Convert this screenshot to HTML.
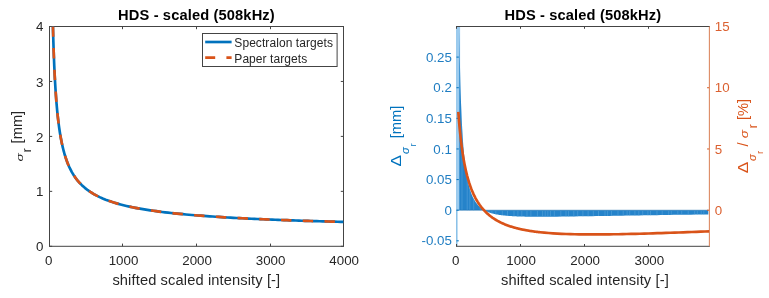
<!DOCTYPE html>
<html><head><meta charset="utf-8"><title>HDS - scaled (508kHz)</title>
<style>
html,body{margin:0;padding:0;background:#fff;}
svg{display:block;font-family:"Liberation Sans", Arial, Helvetica, sans-serif;}
</style></head>
<body>
<svg width="769" height="298" viewBox="0 0 769 298">
<rect width="769" height="298" fill="#fff"/>
<clipPath id="c1"><rect x="49.5" y="26.5" width="294.0" height="219.8"/></clipPath>
<clipPath id="c2"><rect x="456" y="26.5" width="253.39999999999998" height="219.8"/></clipPath>
<path d="M49.50 246.3v-2.7M49.50 26.5v2.7M49.5 246.30h2.7M343.5 246.30h-2.7M122.50 246.3v-2.7M122.50 26.5v2.7M49.5 191.35h2.7M343.5 191.35h-2.7M196.50 246.3v-2.7M196.50 26.5v2.7M49.5 136.40h2.7M343.5 136.40h-2.7M270.50 246.3v-2.7M270.50 26.5v2.7M49.5 81.45h2.7M343.5 81.45h-2.7M343.50 246.3v-2.7M343.50 26.5v2.7M49.5 26.50h2.7M343.5 26.50h-2.7" stroke="#444" stroke-width="1" fill="none"/>
<g fill="none" stroke-width="1">
<path d="M49.0 26.5H344.0M49.0 246.3H344.0" stroke="#444"/>
<path d="M49.5 26.5V246.3" stroke="#444" stroke-width="1.0"/>
<path d="M343.5 26.5V246.3" stroke="#444" stroke-width="1.0"/>
</g>
<g clip-path="url(#c1)" fill="none" stroke-width="2.67" stroke-linejoin="round">
<polyline points="52.80,21.01 53.10,32.42 53.39,42.39 53.68,51.20 53.98,59.04 54.27,66.08 54.56,72.44 54.86,78.22 55.15,83.50 55.44,88.35 55.74,92.81 56.03,96.95 56.32,100.79 56.62,104.36 56.91,107.70 57.20,110.83 57.50,113.77 57.79,116.54 58.08,119.15 58.38,121.61 58.67,123.95 58.96,126.16 59.25,128.27 59.55,130.27 59.84,132.18 60.13,134.00 60.43,135.74 60.72,137.41 61.01,139.00 61.31,140.53 61.60,142.00 61.89,143.41 62.19,144.77 62.48,146.08 62.77,147.33 63.07,148.55 63.36,149.72 63.65,150.85 63.95,151.94 64.24,153.00 64.53,154.02 64.83,155.01 65.12,155.97 65.41,156.90 65.71,157.80 66.00,158.68 66.29,159.53 66.59,160.35 66.88,161.16 67.17,161.94 67.46,162.70 67.76,163.44 68.05,164.16 68.34,164.86 68.64,165.54 68.93,166.21 69.22,166.86 69.52,167.49 69.81,168.11 70.10,168.72 70.40,169.31 70.69,169.89 70.98,170.45 71.28,171.00 71.57,171.54 71.86,172.07 72.16,172.59 72.45,173.10 72.74,173.59 73.04,174.08 73.33,174.55 73.62,175.02 73.92,175.47 74.21,175.92 74.50,176.36 74.80,176.79 75.09,177.21 75.38,177.63 75.67,178.03 75.97,178.43 76.26,178.83 76.55,179.21 76.85,179.59 77.14,179.96 77.43,180.33 77.73,180.68 78.02,181.04 78.31,181.38 78.61,181.72 78.90,182.06 81.87,185.17 84.85,187.85 87.82,190.18 90.79,192.23 93.77,194.05 96.74,195.67 99.71,197.14 102.68,198.47 105.66,199.68 108.63,200.80 111.60,201.82 114.58,202.76 117.55,203.64 120.52,204.46 123.50,205.22 126.47,205.93 129.44,206.60 132.41,207.23 135.39,207.82 138.36,208.38 141.33,208.91 144.31,209.41 147.28,209.89 150.25,210.34 153.23,210.77 156.20,211.18 159.17,211.58 162.14,211.95 165.12,212.31 168.09,212.66 171.06,212.99 174.04,213.31 177.01,213.61 179.98,213.91 182.96,214.19 185.93,214.46 188.90,214.73 191.88,214.98 194.85,215.23 197.82,215.47 200.79,215.70 203.77,215.92 206.74,216.13 209.71,216.34 212.69,216.54 215.66,216.74 218.63,216.93 221.61,217.12 224.58,217.30 227.55,217.47 230.52,217.64 233.50,217.81 236.47,217.97 239.44,218.13 242.42,218.28 245.39,218.43 248.36,218.58 251.34,218.72 254.31,218.86 257.28,218.99 260.26,219.13 263.23,219.26 266.20,219.38 269.17,219.51 272.15,219.63 275.12,219.75 278.09,219.86 281.07,219.98 284.04,220.09 287.01,220.19 289.99,220.30 292.96,220.41 295.93,220.51 298.90,220.61 301.88,220.71 304.85,220.80 307.82,220.90 310.80,220.99 313.77,221.08 316.74,221.17 319.72,221.26 322.69,221.34 325.66,221.43 328.63,221.51 331.61,221.59 334.58,221.67 337.55,221.75 340.53,221.83 343.50,221.91" stroke="#0072BD"/>
<polyline points="52.80,21.01 53.10,32.42 53.39,42.39 53.68,51.20 53.98,59.04 54.27,66.08 54.56,72.44 54.86,78.22 55.15,83.50 55.44,88.35 55.74,92.81 56.03,96.95 56.32,100.79 56.62,104.36 56.91,107.70 57.20,110.83 57.50,113.77 57.79,116.54 58.08,119.15 58.38,121.61 58.67,123.95 58.96,126.16 59.25,128.27 59.55,130.27 59.84,132.18 60.13,134.00 60.43,135.74 60.72,137.41 61.01,139.00 61.31,140.53 61.60,142.00 61.89,143.41 62.19,144.77 62.48,146.08 62.77,147.33 63.07,148.55 63.36,149.72 63.65,150.85 63.95,151.94 64.24,153.00 64.53,154.02 64.83,155.01 65.12,155.97 65.41,156.90 65.71,157.80 66.00,158.68 66.29,159.53 66.59,160.35 66.88,161.16 67.17,161.94 67.46,162.70 67.76,163.44 68.05,164.16 68.34,164.86 68.64,165.54 68.93,166.21 69.22,166.86 69.52,167.49 69.81,168.11 70.10,168.72 70.40,169.31 70.69,169.89 70.98,170.45 71.28,171.00 71.57,171.54 71.86,172.07 72.16,172.59 72.45,173.10 72.74,173.59 73.04,174.08 73.33,174.55 73.62,175.02 73.92,175.47 74.21,175.92 74.50,176.36 74.80,176.79 75.09,177.21 75.38,177.63 75.67,178.03 75.97,178.43 76.26,178.83 76.55,179.21 76.85,179.59 77.14,179.96 77.43,180.33 77.73,180.68 78.02,181.04 78.31,181.38 78.61,181.72 78.90,182.06 81.87,185.17 84.85,187.85 87.82,190.18 90.79,192.23 93.77,194.05 96.74,195.67 99.71,197.14 102.68,198.47 105.66,199.68 108.63,200.80 111.60,201.82 114.58,202.76 117.55,203.64 120.52,204.46 123.50,205.22 126.47,205.93 129.44,206.60 132.41,207.23 135.39,207.82 138.36,208.38 141.33,208.91 144.31,209.41 147.28,209.89 150.25,210.34 153.23,210.77 156.20,211.18 159.17,211.58 162.14,211.95 165.12,212.31 168.09,212.66 171.06,212.99 174.04,213.31 177.01,213.61 179.98,213.91 182.96,214.19 185.93,214.46 188.90,214.73 191.88,214.98 194.85,215.23 197.82,215.47 200.79,215.70 203.77,215.92 206.74,216.13 209.71,216.34 212.69,216.54 215.66,216.74 218.63,216.93 221.61,217.12 224.58,217.30 227.55,217.47 230.52,217.64 233.50,217.81 236.47,217.97 239.44,218.13 242.42,218.28 245.39,218.43 248.36,218.58 251.34,218.72 254.31,218.86 257.28,218.99 260.26,219.13 263.23,219.26 266.20,219.38 269.17,219.51 272.15,219.63 275.12,219.75 278.09,219.86 281.07,219.98 284.04,220.09 287.01,220.19 289.99,220.30 292.96,220.41 295.93,220.51 298.90,220.61 301.88,220.71 304.85,220.80 307.82,220.90 310.80,220.99 313.77,221.08 316.74,221.17 319.72,221.26 322.69,221.34 325.66,221.43 328.63,221.51 331.61,221.59 334.58,221.67 337.55,221.75 340.53,221.83 343.50,221.91" stroke="#D95319" stroke-dasharray="10.4 11.35" stroke-dashoffset="-5.3"/>
</g>
<text x="48.7" y="265.2" font-size="13.33" text-anchor="middle" fill="#262626" font-weight="normal" >0</text>
<text x="43.3" y="251.40" font-size="13.33" text-anchor="end" fill="#262626" font-weight="normal" >0</text>
<text x="123.5" y="265.2" font-size="13.33" text-anchor="middle" fill="#262626" font-weight="normal" >1000</text>
<text x="43.3" y="196.45" font-size="13.33" text-anchor="end" fill="#262626" font-weight="normal" >1</text>
<text x="197.05" y="265.2" font-size="13.33" text-anchor="middle" fill="#262626" font-weight="normal" >2000</text>
<text x="43.3" y="141.50" font-size="13.33" text-anchor="end" fill="#262626" font-weight="normal" >2</text>
<text x="270.6" y="265.2" font-size="13.33" text-anchor="middle" fill="#262626" font-weight="normal" >3000</text>
<text x="43.3" y="86.55" font-size="13.33" text-anchor="end" fill="#262626" font-weight="normal" >3</text>
<text x="344.2" y="265.2" font-size="13.33" text-anchor="middle" fill="#262626" font-weight="normal" >4000</text>
<text x="43.3" y="31.25" font-size="13.33" text-anchor="end" fill="#262626" font-weight="normal" >4</text>
<text x="196.4" y="19.6" font-size="14.67" text-anchor="middle" fill="#000" font-weight="bold" textLength="156.6" lengthAdjust="spacing">HDS - scaled (508kHz)</text>
<text x="196.3" y="284.8" font-size="14.67" text-anchor="middle" fill="#262626" font-weight="normal" textLength="167.8" lengthAdjust="spacing">shifted scaled intensity [-]</text>
<text transform="translate(22.5 161.6) rotate(-90) scale(0.93 0.66)" font-size="14.67" fill="#262626" font-style="italic">σ</text>
<text transform="translate(31.0 152.2) rotate(-90)" font-size="12" fill="#262626" font-style="normal">r</text>
<text transform="translate(22.3 143.4) rotate(-90)" font-size="14.67" fill="#262626" font-style="normal">[mm]</text>
<rect x="202.5" y="33.5" width="134.6" height="33" fill="#fff" stroke="#444" stroke-width="1"/>
<path d="M205.2 42.0H231.6" stroke="#0072BD" stroke-width="2.67"/>
<path d="M205.2 57.6H215.2M226.4 57.6H231.6" stroke="#D95319" stroke-width="2.67"/>
<text x="234.3" y="47.0" font-size="12" text-anchor="start" fill="#262626" font-weight="normal" textLength="98.6" lengthAdjust="spacing">Spectralon targets</text>
<text x="234.3" y="62.95" font-size="12" text-anchor="start" fill="#262626" font-weight="normal" textLength="72.9" lengthAdjust="spacing">Paper targets</text>
<path d="M456.8 26.5V246.3" stroke="#7fbbe6" stroke-width="1.4"/>
<g clip-path="url(#c2)">
<rect x="456.1" y="26.5" width="4.0" height="183.7" fill="#9ccbee"/>
<polygon points="459.30,210.2 459.30,31.03 459.88,62.21 460.46,85.31 461.04,103.13 461.62,117.29 462.20,128.81 462.78,138.34 463.36,146.35 463.94,153.18 464.53,159.05 465.11,164.15 465.69,168.61 466.27,172.54 466.85,176.03 467.43,179.14 468.01,181.93 468.59,184.44 469.17,186.70 469.75,188.76 470.33,190.64 470.91,192.35 471.49,193.92 472.07,195.36 472.65,196.69 473.23,197.91 473.81,199.05 474.39,200.10 474.98,201.07 475.56,201.98 476.14,202.82 476.72,203.61 477.30,204.35 477.88,205.04 478.46,205.68 479.04,206.29 479.62,206.86 480.20,207.39 480.78,207.90 481.36,208.37 481.94,208.82 482.52,209.25 483.10,209.65 483.68,210.02 484.26,210.36 484.85,210.66 485.43,210.95 486.01,211.22 486.59,211.48 487.17,211.72 487.75,211.96 488.33,212.18 488.91,212.39 489.49,212.59 490.07,212.78 490.65,212.96 491.23,213.13 491.81,213.30 492.39,213.46 492.97,213.61 493.55,213.75 494.13,213.89 494.72,214.02 495.30,214.14 495.88,214.26 496.46,214.38 497.04,214.49 497.62,214.59 498.20,214.69 498.78,214.79 499.36,214.88 499.94,214.97 500.52,215.05 501.10,215.13 501.68,215.21 502.26,215.28 502.84,215.35 503.42,215.42 504.00,215.49 504.58,215.55 505.17,215.61 505.75,215.66 506.33,215.72 506.91,215.77 507.49,215.82 508.07,215.87 508.65,215.92 509.23,215.96 509.81,216.00 510.39,216.04 510.97,216.08 511.55,216.12 512.13,216.15 512.71,216.19 513.29,216.22 513.87,216.25 514.45,216.28 515.04,216.31 515.62,216.34 516.20,216.36 516.78,216.39 517.36,216.41 517.94,216.43 518.52,216.45 519.10,216.47 519.68,216.49 520.26,216.51 520.84,216.53 521.42,216.55 522.00,216.56 522.58,216.58 523.16,216.59 523.74,216.61 524.32,216.62 524.91,216.63 525.49,216.64 526.07,216.65 526.65,216.66 527.23,216.67 527.81,216.68 528.39,216.69 528.97,216.70 529.55,216.70 530.13,216.71 530.71,216.72 531.29,216.72 531.87,216.73 532.45,216.73 533.03,216.74 533.61,216.74 534.19,216.74 534.77,216.75 535.36,216.75 535.94,216.75 536.52,216.75 537.10,216.75 537.68,216.76 538.26,216.76 538.84,216.76 539.42,216.76 540.00,216.76 544.32,216.75 548.63,216.72 552.95,216.69 557.26,216.65 561.58,216.60 565.89,216.55 570.21,216.49 574.52,216.43 578.84,216.36 583.15,216.29 587.47,216.23 591.78,216.16 596.10,216.09 600.42,216.02 604.73,215.95 609.05,215.88 613.36,215.81 617.68,215.74 621.99,215.67 626.31,215.60 630.62,215.53 634.94,215.46 639.25,215.39 643.57,215.32 647.88,215.26 652.20,215.19 656.52,215.13 660.83,215.06 665.15,215.00 669.46,214.94 673.78,214.87 678.09,214.81 682.41,214.75 686.72,214.69 691.04,214.63 695.35,214.57 699.67,214.52 703.98,214.46 708.30,214.40 708.30,210.2" fill="#2583ca"/>
<clipPath id="cb"><polygon points="459.30,210.2 459.30,31.03 459.88,62.21 460.46,85.31 461.04,103.13 461.62,117.29 462.20,128.81 462.78,138.34 463.36,146.35 463.94,153.18 464.53,159.05 465.11,164.15 465.69,168.61 466.27,172.54 466.85,176.03 467.43,179.14 468.01,181.93 468.59,184.44 469.17,186.70 469.75,188.76 470.33,190.64 470.91,192.35 471.49,193.92 472.07,195.36 472.65,196.69 473.23,197.91 473.81,199.05 474.39,200.10 474.98,201.07 475.56,201.98 476.14,202.82 476.72,203.61 477.30,204.35 477.88,205.04 478.46,205.68 479.04,206.29 479.62,206.86 480.20,207.39 480.78,207.90 481.36,208.37 481.94,208.82 482.52,209.25 483.10,209.65 483.68,210.02 484.26,210.36 484.85,210.66 485.43,210.95 486.01,211.22 486.59,211.48 487.17,211.72 487.75,211.96 488.33,212.18 488.91,212.39 489.49,212.59 490.07,212.78 490.65,212.96 491.23,213.13 491.81,213.30 492.39,213.46 492.97,213.61 493.55,213.75 494.13,213.89 494.72,214.02 495.30,214.14 495.88,214.26 496.46,214.38 497.04,214.49 497.62,214.59 498.20,214.69 498.78,214.79 499.36,214.88 499.94,214.97 500.52,215.05 501.10,215.13 501.68,215.21 502.26,215.28 502.84,215.35 503.42,215.42 504.00,215.49 504.58,215.55 505.17,215.61 505.75,215.66 506.33,215.72 506.91,215.77 507.49,215.82 508.07,215.87 508.65,215.92 509.23,215.96 509.81,216.00 510.39,216.04 510.97,216.08 511.55,216.12 512.13,216.15 512.71,216.19 513.29,216.22 513.87,216.25 514.45,216.28 515.04,216.31 515.62,216.34 516.20,216.36 516.78,216.39 517.36,216.41 517.94,216.43 518.52,216.45 519.10,216.47 519.68,216.49 520.26,216.51 520.84,216.53 521.42,216.55 522.00,216.56 522.58,216.58 523.16,216.59 523.74,216.61 524.32,216.62 524.91,216.63 525.49,216.64 526.07,216.65 526.65,216.66 527.23,216.67 527.81,216.68 528.39,216.69 528.97,216.70 529.55,216.70 530.13,216.71 530.71,216.72 531.29,216.72 531.87,216.73 532.45,216.73 533.03,216.74 533.61,216.74 534.19,216.74 534.77,216.75 535.36,216.75 535.94,216.75 536.52,216.75 537.10,216.75 537.68,216.76 538.26,216.76 538.84,216.76 539.42,216.76 540.00,216.76 544.32,216.75 548.63,216.72 552.95,216.69 557.26,216.65 561.58,216.60 565.89,216.55 570.21,216.49 574.52,216.43 578.84,216.36 583.15,216.29 587.47,216.23 591.78,216.16 596.10,216.09 600.42,216.02 604.73,215.95 609.05,215.88 613.36,215.81 617.68,215.74 621.99,215.67 626.31,215.60 630.62,215.53 634.94,215.46 639.25,215.39 643.57,215.32 647.88,215.26 652.20,215.19 656.52,215.13 660.83,215.06 665.15,215.00 669.46,214.94 673.78,214.87 678.09,214.81 682.41,214.75 686.72,214.69 691.04,214.63 695.35,214.57 699.67,214.52 703.98,214.46 708.30,214.40 708.30,210.2"/></clipPath>
<path d="M462.0 26.5V246.3M467.2 26.5V246.3M469.8 26.5V246.3M473.7 26.5V246.3M480.2 26.5V246.3M482.8 26.5V246.3M485.4 26.5V246.3M488.0 26.5V246.3M491.9 26.5V246.3M495.8 26.5V246.3M502.3 26.5V246.3M507.5 26.5V246.3M514.0 26.5V246.3M517.9 26.5V246.3M521.8 26.5V246.3M527.0 26.5V246.3M530.9 26.5V246.3M537.4 26.5V246.3M542.6 26.5V246.3M545.2 26.5V246.3M547.8 26.5V246.3M550.4 26.5V246.3M554.3 26.5V246.3M560.8 26.5V246.3M566.0 26.5V246.3M568.6 26.5V246.3M573.8 26.5V246.3M577.7 26.5V246.3M582.9 26.5V246.3M588.1 26.5V246.3M593.3 26.5V246.3M598.5 26.5V246.3M605.0 26.5V246.3M607.6 26.5V246.3M611.5 26.5V246.3M618.0 26.5V246.3M623.2 26.5V246.3M627.1 26.5V246.3M629.7 26.5V246.3M634.9 26.5V246.3M638.8 26.5V246.3M642.7 26.5V246.3M647.9 26.5V246.3M650.5 26.5V246.3M657.0 26.5V246.3M662.2 26.5V246.3M668.7 26.5V246.3M671.3 26.5V246.3M677.8 26.5V246.3M681.7 26.5V246.3M688.2 26.5V246.3M694.7 26.5V246.3M697.3 26.5V246.3M701.2 26.5V246.3M703.8 26.5V246.3" stroke="#5aa6dc" stroke-width="1" opacity="0.55" clip-path="url(#cb)"/>
<path d="M456.5 210.2H708.3" stroke="#1668a8" stroke-width="0.8" opacity="0.6"/>
</g>
<path d="M456.50 246.3v-2.3M456.50 26.5v2.3M520.50 246.3v-2.3M520.50 26.5v2.3M584.50 246.3v-2.3M584.50 26.5v2.3M648.50 246.3v-2.3M648.50 26.5v2.3" stroke="#444" stroke-width="1" fill="none"/>
<path d="M456.5 240.82h2.3M456.5 210.20h2.3M456.5 179.58h2.3M456.5 148.96h2.3M456.5 118.34h2.3M456.5 87.72h2.3M456.5 57.10h2.3" stroke="#0072BD" stroke-width="1" fill="none"/>
<path d="M709.4 210.20h-2.3M709.4 148.97h-2.3M709.4 87.74h-2.3M709.4 26.51h-2.3" stroke="#D95319" stroke-width="1" fill="none"/>
<g fill="none" stroke-width="1">
<path d="M456.0 26.5H709.9M456.0 246.3H709.9" stroke="#444"/>
<path d="M456.5 26.5V246.3" stroke="none" stroke-width="1"/>
<path d="M709.4 26.5V246.3" stroke="#dd8a62" stroke-width="1.1"/>
</g>
<g clip-path="url(#c2)" fill="none" stroke-width="2.67" stroke-linejoin="round">
<polyline points="458.31,111.80 459.00,120.80 459.68,128.60 460.37,135.46 461.06,141.53 461.74,146.96 462.43,151.84 463.12,156.27 463.80,160.30 464.49,163.99 465.18,167.39 465.86,170.52 466.55,173.41 467.23,176.11 467.92,178.61 468.61,180.96 469.29,183.15 469.98,185.21 470.67,187.14 471.35,188.97 472.04,190.69 472.73,192.32 473.41,193.86 474.10,195.32 474.79,196.71 475.47,198.02 476.16,199.28 476.85,200.48 477.53,201.62 478.22,202.71 478.90,203.75 479.59,204.75 480.28,205.70 480.96,206.61 481.65,207.49 482.34,208.33 483.02,209.14 483.71,209.92 484.40,210.67 485.08,211.39 485.77,212.08 486.46,212.74 487.14,213.39 487.83,214.01 488.52,214.61 489.20,215.18 489.89,215.74 490.57,216.28 491.26,216.80 491.95,217.30 492.63,217.79 493.32,218.26 494.01,218.72 494.69,219.16 495.38,219.59 496.07,220.01 496.75,220.41 497.44,220.80 498.13,221.18 498.81,221.54 499.50,221.90 500.19,222.25 500.87,222.58 501.56,222.91 502.24,223.22 502.93,223.53 503.62,223.83 504.30,224.12 504.99,224.40 505.68,224.68 506.36,224.95 507.05,225.21 507.74,225.46 508.42,225.70 509.11,225.94 509.80,226.18 510.48,226.40 511.17,226.62 511.85,226.84 512.54,227.05 513.23,227.25 513.91,227.45 514.60,227.65 515.29,227.83 515.97,228.02 516.66,228.20 517.35,228.37 518.03,228.54 518.72,228.71 519.41,228.87 520.09,229.03 520.78,229.18 521.47,229.33 522.15,229.48 522.84,229.62 523.52,229.76 524.21,229.89 524.90,230.02 525.58,230.15 526.27,230.28 526.96,230.40 527.64,230.52 528.33,230.64 529.02,230.75 529.70,230.86 530.39,230.97 531.08,231.07 531.76,231.18 532.45,231.28 533.14,231.38 533.82,231.47 534.51,231.56 535.19,231.66 535.88,231.74 536.57,231.83 537.25,231.91 537.94,232.00 538.63,232.08 539.31,232.15 540.00,232.23 544.34,232.67 548.68,233.04 553.02,233.35 557.36,233.62 561.71,233.83 566.05,234.01 570.39,234.15 574.73,234.26 579.07,234.35 583.41,234.40 587.75,234.44 592.09,234.45 596.43,234.45 600.77,234.43 605.12,234.40 609.46,234.35 613.80,234.29 618.14,234.21 622.48,234.13 626.82,234.04 631.16,233.94 635.50,233.83 639.84,233.72 644.18,233.60 648.53,233.47 652.87,233.34 657.21,233.20 661.55,233.06 665.89,232.92 670.23,232.77 674.57,232.62 678.91,232.46 683.25,232.30 687.59,232.14 691.94,231.98 696.28,231.82 700.62,231.65 704.96,231.48 709.30,231.31" stroke="#D95319"/>
</g>
<text x="455.7" y="265.2" font-size="13.33" text-anchor="middle" fill="#262626" font-weight="normal" >0</text>
<text x="521.05" y="265.2" font-size="13.33" text-anchor="middle" fill="#262626" font-weight="normal" >1000</text>
<text x="585.2" y="265.2" font-size="13.33" text-anchor="middle" fill="#262626" font-weight="normal" >2000</text>
<text x="649.3" y="265.2" font-size="13.33" text-anchor="middle" fill="#262626" font-weight="normal" >3000</text>
<text x="451.9" y="245.27" font-size="13.33" text-anchor="end" fill="#1f7dc2" font-weight="normal" >-0.05</text>
<text x="451.9" y="214.70" font-size="13.33" text-anchor="end" fill="#1f7dc2" font-weight="normal" >0</text>
<text x="451.9" y="184.13" font-size="13.33" text-anchor="end" fill="#1f7dc2" font-weight="normal" >0.05</text>
<text x="451.9" y="153.56" font-size="13.33" text-anchor="end" fill="#1f7dc2" font-weight="normal" >0.1</text>
<text x="451.9" y="122.99" font-size="13.33" text-anchor="end" fill="#1f7dc2" font-weight="normal" >0.15</text>
<text x="451.9" y="92.42" font-size="13.33" text-anchor="end" fill="#1f7dc2" font-weight="normal" >0.2</text>
<text x="451.9" y="61.85" font-size="13.33" text-anchor="end" fill="#1f7dc2" font-weight="normal" >0.25</text>
<text x="714.8" y="214.80" font-size="13.33" text-anchor="start" fill="#db6030" font-weight="normal" >0</text>
<text x="714.8" y="153.57" font-size="13.33" text-anchor="start" fill="#db6030" font-weight="normal" >5</text>
<text x="714.8" y="92.34" font-size="13.33" text-anchor="start" fill="#db6030" font-weight="normal" >10</text>
<text x="714.8" y="31.11" font-size="13.33" text-anchor="start" fill="#db6030" font-weight="normal" >15</text>
<text x="582.8" y="19.6" font-size="14.67" text-anchor="middle" fill="#000" font-weight="bold" textLength="156.6" lengthAdjust="spacing">HDS - scaled (508kHz)</text>
<text x="584.85" y="284.8" font-size="14.67" text-anchor="middle" fill="#262626" font-weight="normal" textLength="167.8" lengthAdjust="spacing">shifted scaled intensity [-]</text>
<text transform="translate(400.6 166.55) rotate(-90) scale(1.17 0.99)" font-size="14.67" fill="#0072BD" font-style="normal">Δ</text>
<text transform="translate(408.6 154.1) rotate(-90) scale(0.97 0.9)" font-size="11.7" fill="#0072BD" font-style="italic">σ</text>
<text transform="translate(416.4 146.5) rotate(-90)" font-size="9.8" fill="#0072BD" font-style="normal">r</text>
<text transform="translate(400.6 138.3) rotate(-90)" font-size="14.67" fill="#0072BD" font-style="normal">[mm]</text>
<text transform="translate(747.5 173.3) rotate(-90) scale(1.17 0.99)" font-size="14.67" fill="#D95319" font-style="normal">Δ</text>
<text transform="translate(755.5 161.1) rotate(-90) scale(0.97 0.9)" font-size="11.7" fill="#D95319" font-style="italic">σ</text>
<text transform="translate(763.2 154.1) rotate(-90)" font-size="9.8" fill="#D95319" font-style="normal">r</text>
<text transform="translate(747.5 146.4) rotate(-90)" font-size="14.67" fill="#D95319" font-style="normal">/</text>
<text transform="translate(747.8 138.2) rotate(-90) scale(0.93 0.7)" font-size="14.67" fill="#D95319" font-style="italic">σ</text>
<text transform="translate(756.6 128.3) rotate(-90)" font-size="12" fill="#D95319" font-style="normal">r</text>
<text transform="translate(747.5 120.1) rotate(-90)" font-size="14.67" fill="#D95319" font-style="normal">[%]</text>
</svg>
</body></html>
